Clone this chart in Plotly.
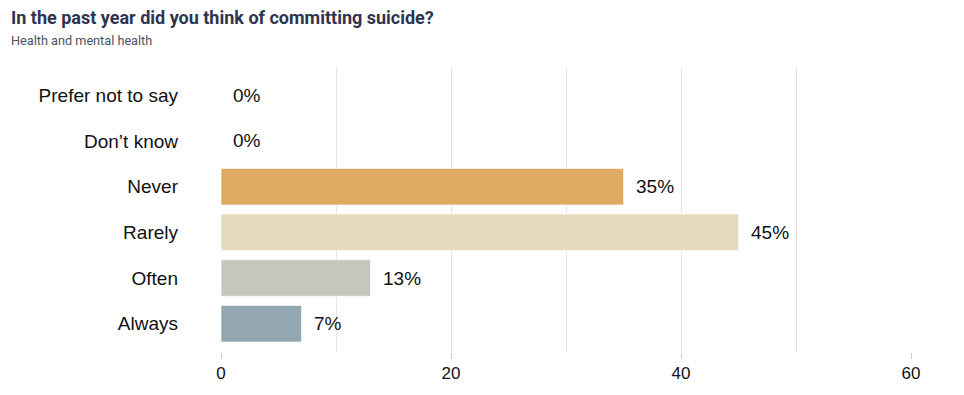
import plotly.graph_objects as go

categories = ["Prefer not to say", "Don't know", "Never", "Rarely", "Often", "Always"]
values = [0, 0, 35, 45, 13, 7]
labels = ["0%", "0%", "35%", "45%", "13%", "7%"]
colors = ["#DEAB62", "#DEAB62", "#DEAB62", "#E4DBBC", "#C5C7BF", "#93A7B2"]
x_ticks = [0, 20, 40, 60]

cats_disp = [c.replace("'", "\u2019") for c in categories]

# page has an 8px body margin; plot area placed in figure coordinates accordingly
L, R, T, B = 213, 61, 59, 51
pw = 964 - L - R
ph = 395 - T - B

fig = go.Figure()
fig.add_trace(go.Bar(
    y=cats_disp, x=values, orientation="h",
    marker=dict(color=colors, line=dict(color="rgba(255,255,255,0.6)", width=1)),
    hoverinfo="skip",
))
anns = []
for c, v, t in zip(cats_disp, values, labels):
    anns.append(dict(x=v, y=c, text=t, xanchor="left", yanchor="middle",
                     xshift=10, showarrow=False,
                     font=dict(family="Liberation Sans, Arial", size=19, color="#111")))
anns.append(dict(
    text="<b>In the past year did you think of committing suicide?</b>",
    xref="paper", yref="paper",
    x=(1 - L) / pw, xanchor="left", y=1 + (T - 10) / ph, yanchor="middle",
    showarrow=False, font=dict(family="Roboto, Inter, sans-serif", size=18, color="#2E3450")))
anns.append(dict(
    text="Health and mental health", xref="paper", yref="paper",
    x=(1 - L) / pw, xanchor="left", y=1 + (T - 33) / ph, yanchor="middle",
    showarrow=False, font=dict(family="Roboto, Inter, sans-serif", size=12.7, color="#4A5064")))

fig.update_layout(
    width=964, height=395,
    margin=dict(l=L, r=R, t=T, b=B),
    paper_bgcolor="white", plot_bgcolor="white",
    bargap=0.2,
    showlegend=False,
    annotations=anns,
)
fig.update_xaxes(range=[0, 60], tickvals=x_ticks, showgrid=False, zeroline=False,
                 ticks="outside", ticklen=6, tickcolor="#CCCCCC",
                 tickfont=dict(family="Liberation Sans, Arial", size=17, color="#111"),
                 minor=dict(dtick=10, showgrid=True, gridcolor="#E6E6E6", gridwidth=1),
                 fixedrange=True)
fig.update_yaxes(categoryorder="array", categoryarray=cats_disp[::-1],
                 range=[-0.62, 5.62],
                 ticklabelstandoff=42, ticks="", showgrid=False,
                 tickfont=dict(family="Liberation Sans, Arial", size=19, color="#111"))

fig.write_html("out.html")
